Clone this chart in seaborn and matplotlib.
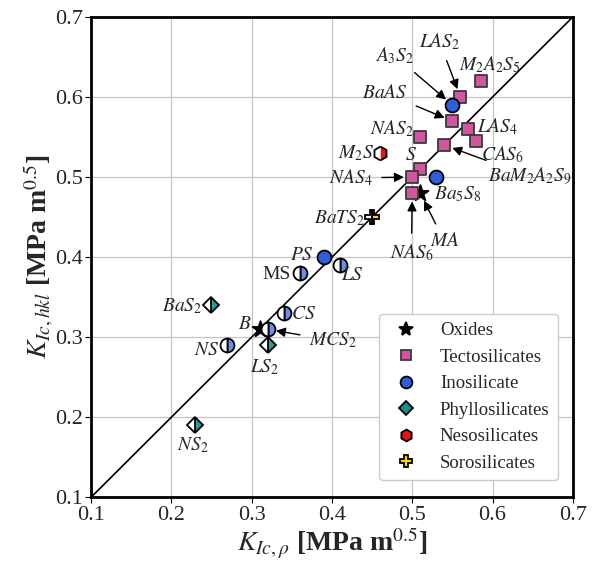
import pandas as pd
import matplotlib.pyplot as plt
import seaborn as sns
from matplotlib.lines import Line2D

# data
names = ['B', 'MA', 'M2A2S5', 'LAS2', 'BaAS', 'LAS4', 'CAS6', 'NAS2', 'BaM2A2S9', 'S',
         'NAS4', 'NAS6', 'A3S2', 'Ba5S8', 'PS', 'MS', 'LS', 'CS', 'MCS2', 'NS',
         'BaS2', 'LS2', 'NS2', 'M2S', 'BaTS2']
k_rho = [0.31, 0.51, 0.585, 0.56, 0.55, 0.57, 0.58, 0.51, 0.54, 0.51,
         0.50, 0.50, 0.55, 0.53, 0.39, 0.36, 0.41, 0.34, 0.32, 0.27,
         0.25, 0.32, 0.23, 0.46, 0.45]
k_hkl = [0.31, 0.48, 0.62, 0.60, 0.57, 0.56, 0.545, 0.55, 0.54, 0.51,
         0.50, 0.48, 0.59, 0.50, 0.40, 0.38, 0.39, 0.33, 0.31, 0.29,
         0.34, 0.29, 0.19, 0.53, 0.45]
family = ['Oxides'] * 2 + ['Tectosilicates'] * 10 + ['Inosilicate'] * 8 + \
         ['Phyllosilicates'] * 3 + ['Nesosilicates', 'Sorosilicates']
half_filled = ['MS', 'LS', 'CS', 'MCS2', 'NS', 'BaS2', 'LS2', 'NS2', 'M2S', 'BaTS2']

labels = {'B': '$B$', 'MA': '$MA$', 'M2A2S5': '$M_2A_2S_5$', 'LAS2': '$LAS_2$', 'BaAS': '$BaAS$',
          'LAS4': '$LAS_4$', 'CAS6': '$CAS_6$', 'NAS2': '$NAS_2$', 'BaM2A2S9': '$BaM_2A_2S_9$',
          'S': '$S$', 'NAS4': '$NAS_4$', 'NAS6': '$NAS_6$', 'A3S2': '$A_3S_2$', 'Ba5S8': '$Ba_5S_8$',
          'PS': '$PS$', 'MS': 'MS', 'LS': '$LS$', 'CS': '$CS$', 'MCS2': '$MCS_2$', 'NS': '$NS$',
          'BaS2': '$BaS_2$', 'LS2': '$LS_2$', 'NS2': '$NS_2$', 'M2S': '$M_2S$', 'BaTS2': '$BaTS_2$'}

df = pd.DataFrame({'name': names, 'k_rho': k_rho, 'k_hkl': k_hkl, 'family': family})
df['half'] = df['name'].isin(half_filled)

# marker style per family
style = {
    'Oxides':          dict(marker='*', color='black', alt='black', size=12, edge='black'),
    'Tectosilicates':  dict(marker='s', color='#d2559f', alt='#d2559f', size=9, edge='#3a3a3a'),
    'Inosilicate':     dict(marker='o', color='#2f5fd8', alt='#6f8fe4', size=10, edge='black'),
    'Phyllosilicates': dict(marker='D', color='#1a8a8a', alt='#2a9a9a', size=8, edge='black'),
    'Nesosilicates':   dict(marker='h', color='#e8121a', alt='#e8121a', size=10, edge='black'),
    'Sorosilicates':   dict(marker='P', color='#ffd400', alt='#ffd400', size=10, edge='black'),
}

# label positions (x, y) and which ones get an arrow
text_pos = {'M2A2S5': (0.597, 0.640), 'LAS2': (0.534, 0.669), 'A3S2': (0.478, 0.652),
            'BaAS': (0.466, 0.605), 'NAS2': (0.474, 0.561), 'LAS4': (0.606, 0.563),
            'CAS6': (0.612, 0.528), 'M2S': (0.430, 0.530), 'S': (0.499, 0.527),
            'BaM2A2S9': (0.646, 0.501), 'NAS4': (0.424, 0.499), 'Ba5S8': (0.557, 0.479),
            'MA': (0.540, 0.420), 'NAS6': (0.499, 0.406), 'BaTS2': (0.413, 0.449),
            'LS': (0.426, 0.377), 'PS': (0.363, 0.402), 'MS': (0.331, 0.379),
            'CS': (0.364, 0.329), 'B': (0.292, 0.316), 'MCS2': (0.401, 0.296),
            'NS': (0.244, 0.283), 'BaS2': (0.213, 0.339), 'LS2': (0.316, 0.263),
            'NS2': (0.227, 0.165)}
arrowed = ['LAS2', 'A3S2', 'BaAS', 'BaM2A2S9', 'NAS4', 'NAS6', 'MA', 'MCS2']

sns.set_style('whitegrid')
plt.rcParams['font.family'] = ['Liberation Serif', 'DejaVu Serif']
plt.rcParams['mathtext.fontset'] = 'stix'

fig, ax = plt.subplots(figsize=(5.98, 5.64), dpi=100)
fig.subplots_adjust(left=0.152, right=0.958, bottom=0.118, top=0.970)

ax.plot([0.1, 0.7], [0.1, 0.7], color='black', lw=1.2, zorder=2)

# fully filled markers via seaborn
for fam, st in style.items():
    sub = df[(df['family'] == fam) & (~df['half'])]
    if len(sub):
        sns.scatterplot(data=sub, x='k_rho', y='k_hkl', ax=ax, marker=st['marker'],
                        color=st['color'], s=st['size'] ** 2, edgecolor=st['edge'],
                        linewidth=1.3, zorder=4, legend=False)

# half filled markers
for _, row in df[df['half']].iterrows():
    st = style[row['family']]
    ax.plot(row['k_rho'], row['k_hkl'], ls='none', marker=st['marker'], ms=st['size'],
            fillstyle='right', markerfacecolor=st['alt'], markerfacecoloralt='white',
            markeredgecolor='black', markeredgewidth=1.3, zorder=4)

for _, row in df.iterrows():
    tx, ty = text_pos[row['name']]
    if row['name'] in arrowed:
        ax.annotate(labels[row['name']], xy=(row['k_rho'], row['k_hkl']), xytext=(tx, ty),
                    fontsize=14, ha='center', va='center', zorder=5,
                    arrowprops=dict(arrowstyle='-|>', color='black', lw=1,
                                    mutation_scale=14, shrinkA=4, shrinkB=6))
    elif row['name'] == 'BaTS2':
        ax.text(0.441, ty, labels[row['name']], fontsize=14, ha='right', va='center', zorder=5)
    else:
        ax.text(tx, ty, labels[row['name']], fontsize=14, ha='center', va='center', zorder=5)

ax.set_xlim(0.1, 0.7)
ax.set_ylim(0.1, 0.7)
ax.set_xticks([0.1, 0.2, 0.3, 0.4, 0.5, 0.6, 0.7])
ax.set_yticks([0.1, 0.2, 0.3, 0.4, 0.5, 0.6, 0.7])
ax.tick_params(labelsize=16, length=4, color='black', direction='out', left=True,
               bottom=True, pad=2)
ax.grid(True, color='#c4c4c4', lw=0.9)
for sp in ax.spines.values():
    sp.set_color('black')
    sp.set_linewidth(2)

ax.set_xlabel(r'$K_{Ic,\rho}$ [MPa m$^{0.5}$]', fontsize=20, fontweight='bold', labelpad=1)
ax.set_ylabel(r'$K_{Ic,hkl}$ [MPa m$^{0.5}$]', fontsize=20, fontweight='bold', labelpad=0)

handles = [Line2D([], [], ls='none', marker=st['marker'], ms=st['size'] * 0.85,
                  markerfacecolor=st['color'], markeredgecolor=st['edge'],
                  markeredgewidth=1.3, label=fam) for fam, st in style.items()]
leg = ax.legend(handles=handles, loc='lower right', fontsize=13.5, frameon=True,
                framealpha=1, edgecolor='#cccccc', labelspacing=0.5,
                handletextpad=0.8, borderpad=0.45, borderaxespad=0,
                bbox_to_anchor=(0.969, 0.036))

fig.savefig('out.png', dpi=100)
